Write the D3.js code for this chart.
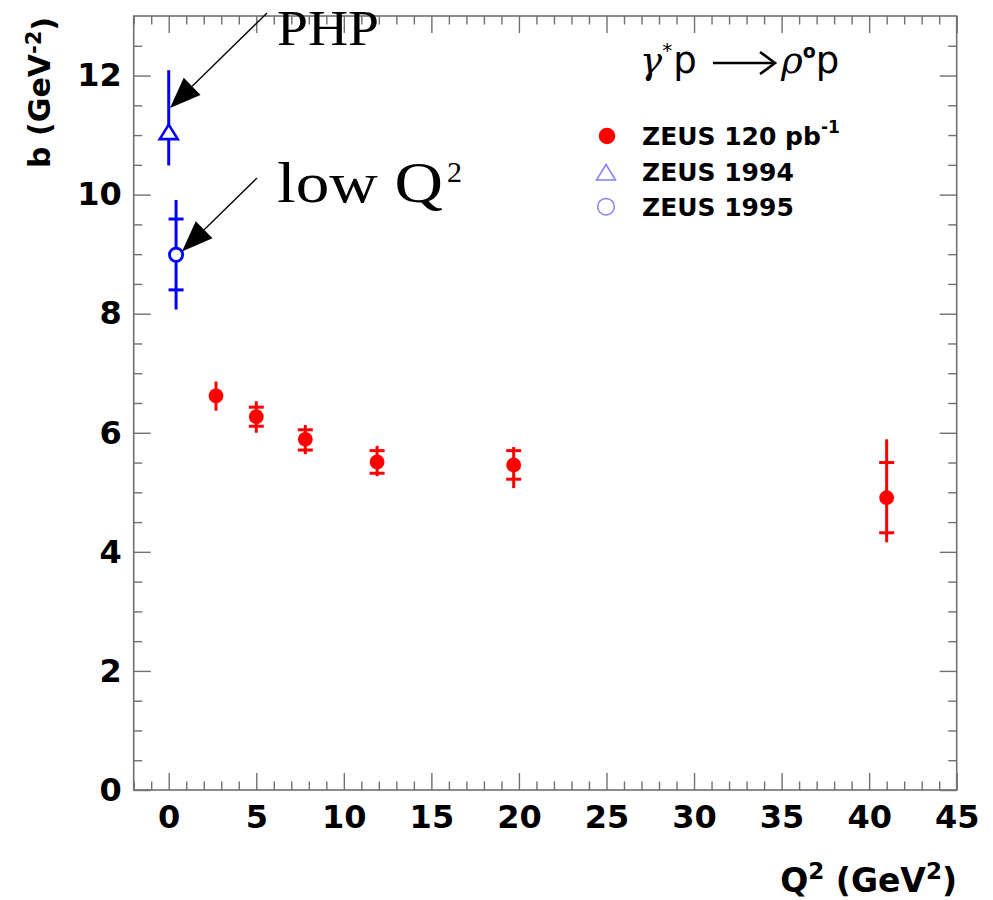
<!DOCTYPE html>
<html>
<head>
<meta charset="utf-8">
<script src="https://cdn.jsdelivr.net/npm/d3@7"></script>
<style>
  html, body { margin: 0; padding: 0; background: #fff; }
  svg { display: block; }
</style>
</head>
<body>
<svg id="chart" width="993" height="900"></svg>
<script>
// ---------------- data ----------------
const xTicks = [0, 5, 10, 15, 20, 25, 30, 35, 40, 45];
const yTicks = [0, 2, 4, 6, 8, 10, 12];

// ZEUS 120 pb-1 (red filled circles)
const redQ2     = [2.7, 5.0, 7.8, 11.9, 19.7, 41.0];
const redB      = [6.62, 6.27, 5.89, 5.51, 5.46, 4.91];
const redTotLo  = [6.37, 6.00, 5.64, 5.27, 5.07, 4.16];
const redTotHi  = [6.86, 6.53, 6.13, 5.78, 5.76, 5.89];
const redStatLo = [null, 6.11, 5.71, 5.32, 5.22, 4.32];
const redStatHi = [null, 6.43, 6.05, 5.70, 5.70, 5.50];

// ZEUS 1994 (PHP, open triangle)
const phpQ2    = [0.0];
const phpB     = [11.05];
const phpTotLo = [10.49];
const phpTotHi = [12.09];

// ZEUS 1995 (low Q2, open circle)
const lowQ2     = [0.42];
const lowB      = [8.99];
const lowTotLo  = [8.07];
const lowTotHi  = [9.91];
const lowStatLo = [8.40];
const lowStatHi = [9.59];

const legendLabels = ["ZEUS 120 pb", "ZEUS 1994", "ZEUS 1995"];

// ---------------- layout ----------------
const svg = d3.select("#chart");
const L = 133.7, R = 956.7, T = 16, B = 790;
const x = d3.scaleLinear().domain([-2, 45]).range([L, R]);
const y = d3.scaleLinear().domain([0, 13]).range([B, T]);

const frameColor = "#707070";
const tickFont = "'DejaVu Sans', sans-serif";

function styleAxis(g) {
  g.select(".domain").remove();
  g.selectAll(".tick line").attr("stroke", frameColor).attr("stroke-width", 1.4);
  g.selectAll(".tick text")
    .attr("fill", "#000")
    .style("font-family", tickFont)
    .style("font-weight", "bold")
    .style("font-size", "32px");
}

const xMinor = d3.range(-2, 46, 1).filter(v => !xTicks.includes(v));
const yMinor = d3.range(0, 13.01, 0.5).filter(v => !yTicks.includes(v) && v < 13);
const yMajorAll = yTicks;

// bottom
svg.append("g").attr("transform", `translate(0,${B})`)
  .call(d3.axisBottom(x).tickValues(xTicks).tickSizeInner(-17).tickSizeOuter(0).tickPadding(15).tickFormat(d3.format("d")))
  .call(styleAxis);
svg.append("g").attr("transform", `translate(0,${B})`)
  .call(d3.axisBottom(x).tickValues(xMinor).tickSizeInner(-8.5).tickSizeOuter(0).tickFormat(""))
  .call(styleAxis);
// top
svg.append("g").attr("transform", `translate(0,${T})`)
  .call(d3.axisTop(x).tickValues(xTicks).tickSizeInner(-17).tickSizeOuter(0).tickFormat(""))
  .call(styleAxis);
svg.append("g").attr("transform", `translate(0,${T})`)
  .call(d3.axisTop(x).tickValues(xMinor).tickSizeInner(-8.5).tickSizeOuter(0).tickFormat(""))
  .call(styleAxis);
// left
svg.append("g").attr("transform", `translate(${L},0)`)
  .call(d3.axisLeft(y).tickValues(yMajorAll).tickSizeInner(-17).tickSizeOuter(0).tickPadding(12).tickFormat(d3.format("d")))
  .call(styleAxis);
svg.append("g").attr("transform", `translate(${L},0)`)
  .call(d3.axisLeft(y).tickValues(yMinor).tickSizeInner(-8.5).tickSizeOuter(0).tickFormat(""))
  .call(styleAxis);
// right
svg.append("g").attr("transform", `translate(${R},0)`)
  .call(d3.axisRight(y).tickValues(yMajorAll).tickSizeInner(-17).tickSizeOuter(0).tickFormat(""))
  .call(styleAxis);
svg.append("g").attr("transform", `translate(${R},0)`)
  .call(d3.axisRight(y).tickValues(yMinor).tickSizeInner(-8.5).tickSizeOuter(0).tickFormat(""))
  .call(styleAxis);

// frame
svg.append("rect").attr("x", L).attr("y", T).attr("width", R - L).attr("height", B - T)
  .attr("fill", "none").attr("stroke", frameColor).attr("stroke-width", 1.6);

// axis titles
const yTitle = svg.append("text")
  .attr("transform", "translate(50,17) rotate(-90)")
  .attr("text-anchor", "end")
  .style("font-family", tickFont).style("font-weight", "bold").style("font-size", "30px");
yTitle.append("tspan").text("b (GeV");
yTitle.append("tspan").attr("dy", "-0.42em").style("font-size", "21px").text("-2");
yTitle.append("tspan").attr("dy", "0.42em").text(")");

const xTitle = svg.append("text")
  .attr("x", 957).attr("y", 892)
  .attr("text-anchor", "end")
  .style("font-family", tickFont).style("font-weight", "bold").style("font-size", "33px");
xTitle.append("tspan").text("Q");
xTitle.append("tspan").attr("dy", "-13").style("font-size", "23px").text("2");
xTitle.append("tspan").attr("dy", "13").text(" (GeV");
xTitle.append("tspan").attr("dy", "-13").style("font-size", "23px").text("2");
xTitle.append("tspan").attr("dy", "13").text(")");

// ---------------- data marks ----------------
const plot = svg.append("g");

function errorBars(color, xs, ys, lo, hi, sLo, sHi, gap) {
  const g = plot.append("g").attr("stroke", color).attr("stroke-width", 3).attr("fill", "none");
  xs.forEach((xv, i) => {
    const cx = x(xv), cy = y(ys[i]);
    g.append("line").attr("x1", cx).attr("x2", cx).attr("y1", y(hi[i])).attr("y2", cy - gap);
    g.append("line").attr("x1", cx).attr("x2", cx).attr("y1", cy + gap).attr("y2", y(lo[i]));
    if (sLo && sLo[i] != null) {
      [sLo[i], sHi[i]].forEach(v => {
        g.append("line").attr("x1", cx - 7.5).attr("x2", cx + 7.5).attr("y1", y(v)).attr("y2", y(v));
      });
    }
  });
}

// red
errorBars("#ff0000", redQ2, redB, redTotLo, redTotHi, redStatLo, redStatHi, 0);
plot.append("g").selectAll("circle").data(redQ2).join("circle")
  .attr("cx", d => x(d)).attr("cy", (d, i) => y(redB[i])).attr("r", 7.4).attr("fill", "#ff0000");

// blue PHP triangle
errorBars("#0000ff", phpQ2, phpB, phpTotLo, phpTotHi, null, null, 7);
const triPath = "M0,-7.5 L9,7 L-9,7 Z";
plot.append("g").selectAll("path").data(phpQ2).join("path")
  .attr("transform", (d, i) => `translate(${x(d)},${y(phpB[i])})`)
  .attr("d", triPath).attr("fill", "#fff").attr("stroke", "#0000ff").attr("stroke-width", 2.6);

// blue low Q2 circle
errorBars("#0000ff", lowQ2, lowB, lowTotLo, lowTotHi, lowStatLo, lowStatHi, 7);
plot.append("g").selectAll("circle").data(lowQ2).join("circle")
  .attr("cx", d => x(d)).attr("cy", (d, i) => y(lowB[i])).attr("r", 6.6)
  .attr("fill", "#fff").attr("stroke", "#0000ff").attr("stroke-width", 2.8);

// ---------------- annotations ----------------
function arrow(x1, y1, x2, y2) {
  const dx = x2 - x1, dy = y2 - y1, len = Math.hypot(dx, dy);
  const ux = dx / len, uy = dy / len;
  const hl = 31, hw = 12;
  const bx = x2 - ux * hl, by = y2 - uy * hl;
  svg.append("line").attr("x1", x1).attr("y1", y1).attr("x2", bx).attr("y2", by)
    .attr("stroke", "#000").attr("stroke-width", 1.3);
  svg.append("path")
    .attr("d", `M${x2},${y2} L${bx - uy * hw},${by + ux * hw} L${bx + uy * hw},${by - ux * hw} Z`)
    .attr("fill", "#000");
}
arrow(267, 13, 170, 108);
arrow(257, 178, 182, 251.5);

const serif = "'Liberation Serif', 'Times New Roman', serif";
svg.append("text").attr("x", 277).attr("y", 45)
  .attr("textLength", 102).attr("lengthAdjust", "spacingAndGlyphs")
  .style("font-family", serif).style("font-size", "50px").text("PHP");
svg.append("text").attr("x", 277).attr("y", 202)
  .attr("textLength", 166).attr("lengthAdjust", "spacingAndGlyphs")
  .style("font-family", serif).style("font-size", "58px").text("low Q");
svg.append("text").attr("x", 447).attr("y", 182)
  .style("font-family", serif).style("font-size", "30px").text("2");

// ---------------- legend ----------------
const title = svg.append("g");
const t1 = title.append("text").attr("x", 640).attr("y", 73).style("font-size", "37px");
t1.append("tspan").style("font-family", "'DejaVu Serif', serif").style("font-style", "italic").text("γ");
t1.append("tspan").attr("dy", -16).style("font-family", tickFont).style("font-size", "20px").text("*");
t1.append("tspan").attr("dy", 16).attr("dx", 1).style("font-family", tickFont).text("p");
title.append("line").attr("x1", 713).attr("x2", 774).attr("y1", 63).attr("y2", 63)
  .attr("stroke", "#000").attr("stroke-width", 2.6);
title.append("path").attr("d", "M760,52 L775,63 L760,74").attr("fill", "none")
  .attr("stroke", "#000").attr("stroke-width", 2.6);
const t2 = title.append("text").attr("x", 781).attr("y", 73).style("font-size", "37px");
t2.append("tspan").style("font-family", "'DejaVu Serif', serif").style("font-style", "italic").text("ρ");
t2.append("tspan").attr("dy", -15).style("font-family", tickFont).style("font-weight", "bold").style("font-size", "19px").text("o");
t2.append("tspan").attr("dy", 15).style("font-family", tickFont).text("p");

const legY = [145, 180.7, 215.7];
const legMarkY = [136, 172.5, 206.7];
const legend = svg.append("g");
legend.append("circle").attr("cx", 607).attr("cy", legMarkY[0]).attr("r", 8.3).attr("fill", "#ff0000");
legend.append("path").attr("transform", `translate(606,${legMarkY[1]})`)
  .attr("d", "M0,-8 L9.5,7.5 L-9.5,7.5 Z").attr("fill", "none").attr("stroke", "#8080ff").attr("stroke-width", 1.5);
legend.append("circle").attr("cx", 606).attr("cy", legMarkY[2]).attr("r", 8.3)
  .attr("fill", "none").attr("stroke", "#8080ff").attr("stroke-width", 1.5);

legendLabels.forEach((lab, i) => {
  const t = legend.append("text").attr("x", 642).attr("y", legY[i])
    .style("font-family", tickFont).style("font-weight", "bold").style("font-size", "25px");
  t.append("tspan").text(lab);
  if (i === 0) {
    t.append("tspan").attr("dy", -12).style("font-size", "17px").text("-1");
  }
});
</script>
</body>
</html>
